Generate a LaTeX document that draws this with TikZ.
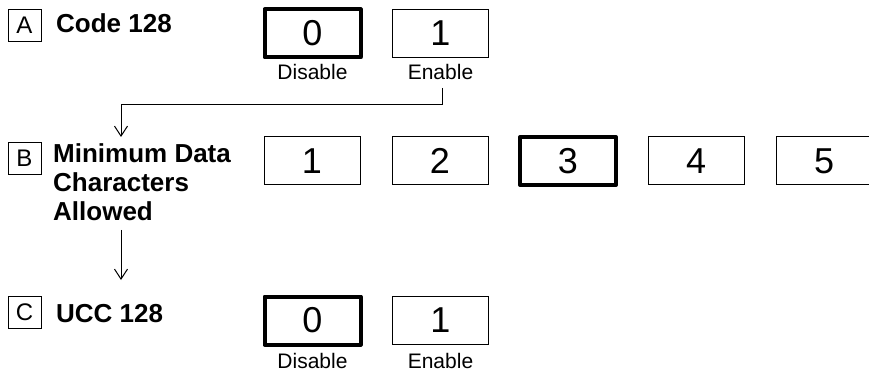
\documentclass[tikz,border=0pt]{standalone}
\usepackage{fontspec}
\setmainfont{Liberation Sans}
\usetikzlibrary{arrows.meta}
\begin{document}
\begin{tikzpicture}[x=1pt,y=-1pt,
  optbox/.style={draw,line width=1pt,minimum width=96pt,minimum height=48pt,inner sep=0pt,font=\fontsize{36}{40}\selectfont},
  selbox/.style={optbox,line width=4pt,line join=round},
  letbox/.style={draw,line width=0.9pt,minimum width=33pt,minimum height=32pt,inner sep=0pt,font=\fontsize{24}{28}\selectfont},
  lab/.style={anchor=base west,inner sep=0pt,font=\fontsize{26}{29}\selectfont\bfseries},
  sub/.style={anchor=base,inner sep=0pt,font=\fontsize{21}{24}\selectfont},
  conn/.style={line width=1pt},
  arr/.style={conn,-{Straight Barb[length=10pt,width=13pt,line width=1pt]}}]
\clip (0,0) rectangle (869,371);
% Row A
\node[letbox] (la) at (24.5,25) {A};
\node[lab] (ta) at (56,33) {Code 128};
\node[selbox] (a0) at (312.5,33.5) {0};
\node[optbox] (a1) at (440.5,33.5) {1};
\node[sub] (da0) at (312.5,80) {Disable};
\node[sub] (da1) at (440.5,80) {Enable};
% Row B
\node[letbox] (lb) at (24.5,158) {B};
\node[lab,align=left] (tb) at (53,221) {Minimum Data\\Characters\\Allowed};
\node[optbox] (b1) at (312,161) {1};
\node[optbox] (b2) at (440,161) {2};
\node[selbox] (b3) at (568,161) {3};
\node[optbox] (b4) at (696,161) {4};
\node[optbox] (b5) at (824,161) {5};
% Row C
\node[letbox] (lc) at (24.5,312) {C};
\node[lab] (tc) at (56,322) {UCC 128};
\node[selbox] (c0) at (312.5,320.5) {0};
\node[optbox] (c1) at (440.5,320.5) {1};
\node[sub] (dc0) at (312.5,368) {Disable};
\node[sub] (dc1) at (440.5,368) {Enable};
% connectors
\coordinate (aStart) at (442,88);
\coordinate (aTurn) at (121,105);
\coordinate (bTip) at (121,137);
\coordinate (bStart) at (121,230);
\coordinate (cTip) at (121,280);
\draw[arr] (aStart) |- (aTurn) -- (bTip);
\draw[arr] (bStart) -- (cTip);
\end{tikzpicture}
\end{document}
